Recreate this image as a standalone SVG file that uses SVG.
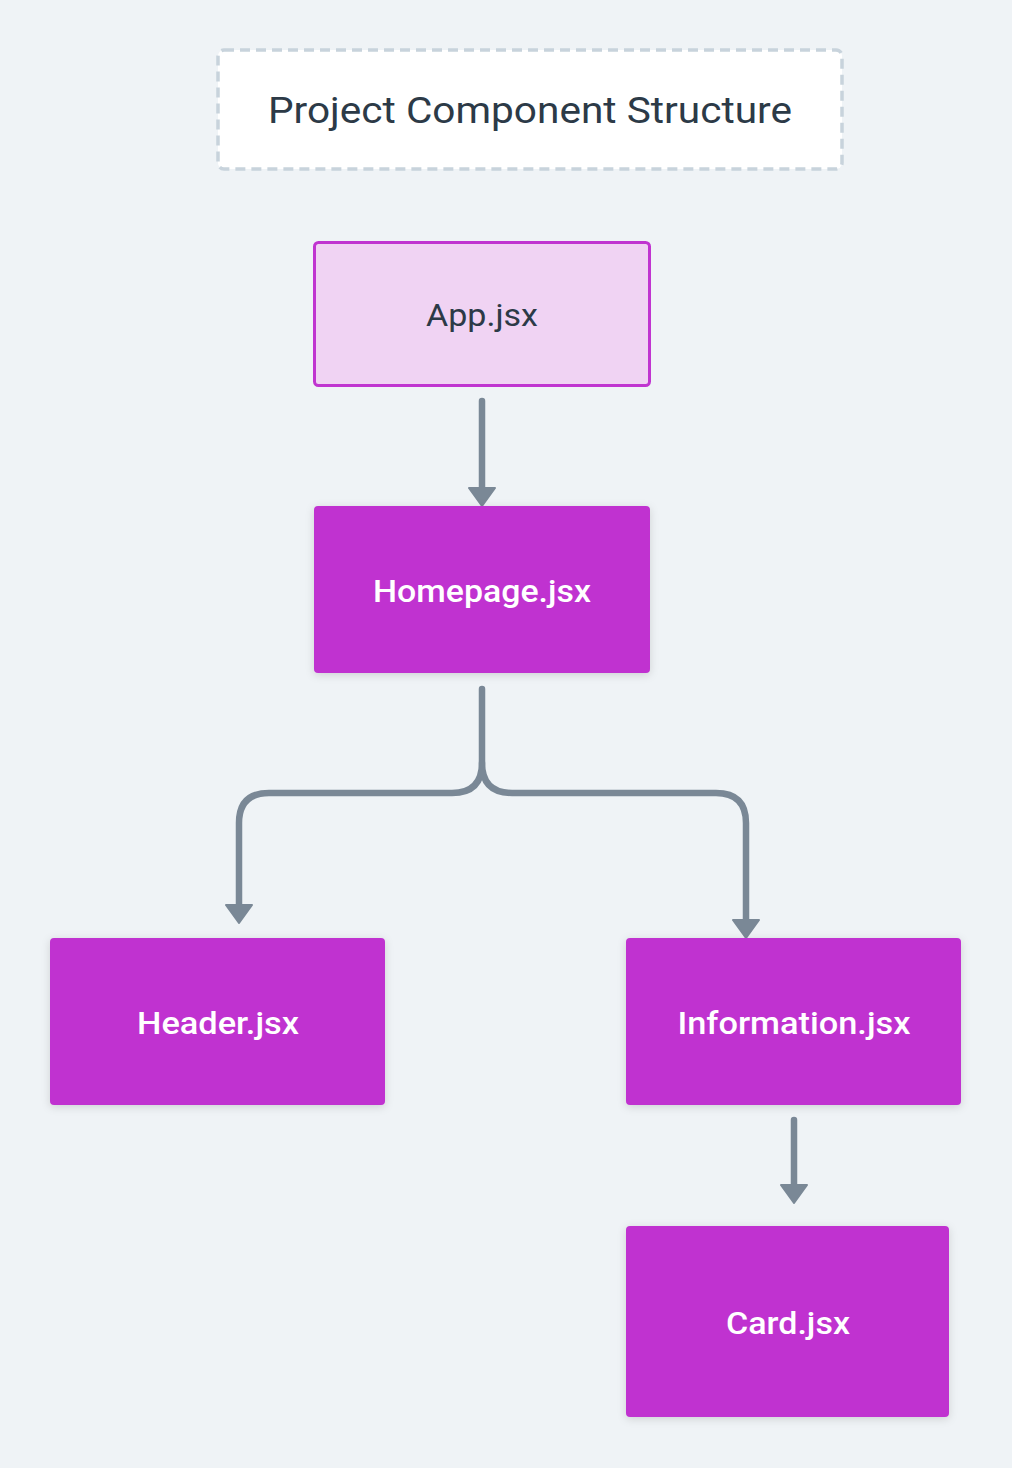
<svg xmlns="http://www.w3.org/2000/svg" width="1012" height="1468" viewBox="0 0 1012 1468">
<defs>
<style>
.lbl{font-family:"Roboto","Liberation Sans",sans-serif;font-size:31px;text-anchor:middle;}
.dark{fill:#2c3a47;}
.light{fill:#ffffff;font-weight:500;}
.node{fill:#c033d0;}
.conn{fill:none;stroke:#7a8896;stroke-width:6.5;stroke-linecap:round;stroke-linejoin:round;}
</style>
<filter id="sh" x="-10%" y="-10%" width="120%" height="130%">
<feDropShadow dx="0" dy="2" stdDeviation="4" flood-color="#000" flood-opacity="0.14"/>
</filter>
<marker id="ah" markerUnits="userSpaceOnUse" viewBox="0 0 20 28" markerWidth="20" markerHeight="28" refX="9" refY="14" orient="auto">
<path d="M1,1 L19,14 L1,27 Z" fill="#7a8896" stroke="#7a8896" stroke-width="2" stroke-linejoin="round"/>
</marker>
</defs>
<rect width="1012" height="1468" fill="#eff3f6"/>
<g id="title">
<rect x="218" y="50" width="624" height="119" rx="6" fill="#ffffff" stroke="#c8d3dc" stroke-width="3.5" stroke-dasharray="10 6"/>
<text class="lbl dark" x="530" y="123" style="font-size:37px" textLength="524" lengthAdjust="spacingAndGlyphs">Project Component Structure</text>
</g>
<g id="connectors">
<path class="conn" d="M482,401 V496" marker-end="url(#ah)"/>
<path class="conn" d="M482,689 V763 Q482,793 452,793 H269 Q239,793 239,823 V913" marker-end="url(#ah)"/>
<path class="conn" d="M482,763 Q482,793 512,793 H716 Q746,793 746,823 V928" marker-end="url(#ah)"/>
<path class="conn" d="M794,1120 V1193" marker-end="url(#ah)"/>
</g>
<g id="app">
<rect x="314.5" y="242.5" width="335" height="143" rx="4" fill="#f0d3f3" stroke="#c034d0" stroke-width="3"/>
<text class="lbl dark" x="482" y="326" textLength="112" lengthAdjust="spacingAndGlyphs">App.jsx</text>
</g>
<g id="homepage">
<rect class="node" x="314" y="506" width="336" height="167" rx="4" filter="url(#sh)"/>
<text class="lbl light" x="482" y="602" textLength="218" lengthAdjust="spacingAndGlyphs">Homepage.jsx</text>
</g>
<g id="header">
<rect class="node" x="50" y="938" width="335" height="167" rx="4" filter="url(#sh)"/>
<text class="lbl light" x="218" y="1034" textLength="162" lengthAdjust="spacingAndGlyphs">Header.jsx</text>
</g>
<g id="information">
<rect class="node" x="626" y="938" width="335" height="167" rx="4" filter="url(#sh)"/>
<text class="lbl light" x="794" y="1034" textLength="233" lengthAdjust="spacingAndGlyphs">Information.jsx</text>
</g>
<g id="card">
<rect class="node" x="626" y="1226" width="323" height="191" rx="4" filter="url(#sh)"/>
<text class="lbl light" x="788" y="1334" textLength="124" lengthAdjust="spacingAndGlyphs">Card.jsx</text>
</g>
</svg>
